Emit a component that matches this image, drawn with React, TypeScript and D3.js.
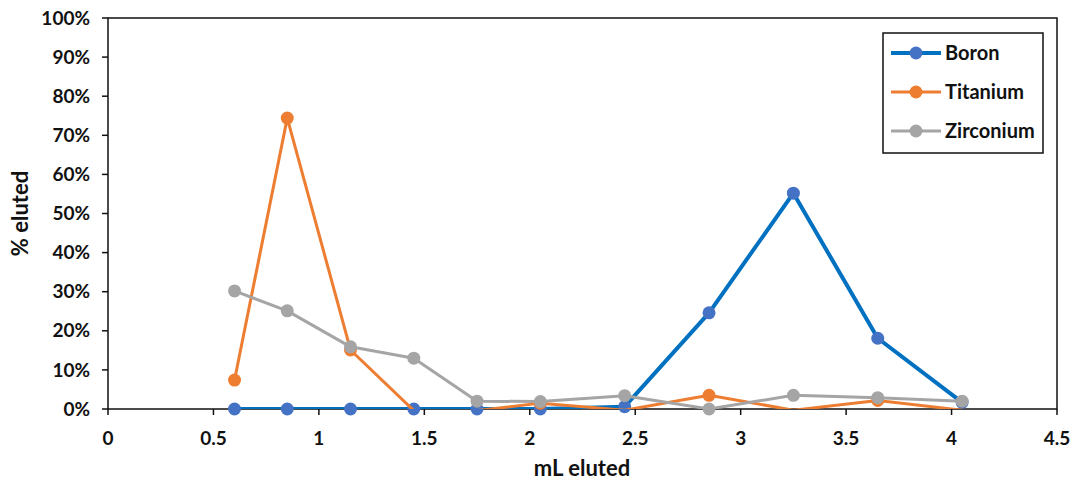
import React from "react";
import * as d3 from "d3";

// Elution volume (mL) at which each fraction was collected
const mlEluted = [0.6, 0.85, 1.15, 1.45, 1.75, 2.05, 2.45, 2.85, 3.25, 3.65, 4.05];

// Percent of each element eluted per fraction (fraction of total)
const boron = [0, 0, 0, 0, 0, 0, 0.006, 0.246, 0.552, 0.181, 0.017];
const titanium = [0.074, 0.744, 0.151, -0.004, -0.004, 0.015, -0.003, 0.035, -0.003, 0.022, -0.003];
const zirconium = [0.302, 0.251, 0.159, 0.13, 0.02, 0.019, 0.034, 0.0, 0.035, 0.029, 0.02];

const xTicks = [0, 0.5, 1, 1.5, 2, 2.5, 3, 3.5, 4, 4.5];
const yTicks = [0, 0.1, 0.2, 0.3, 0.4, 0.5, 0.6, 0.7, 0.8, 0.9, 1.0];

const seriesNames = ["Boron", "Titanium", "Zirconium"];

const W = 1072;
const H = 481;
const M = { left: 108, right: 1057, top: 18, bottom: 409 };
const FONT = "Lato, 'Open Sans', sans-serif";
const INK = "#111";

const styles = [
  { line: "#0070C0", marker: "#4472C4", width: 4 },
  { line: "#ED7D31", marker: "#ED7D31", width: 3 },
  { line: "#A5A5A5", marker: "#A5A5A5", width: 3 },
];

export default function App() {
  const x = d3.scaleLinear().domain([0, 4.5]).range([M.left, M.right]);
  const y = d3.scaleLinear().domain([0, 1]).range([M.bottom, M.top]);
  const pct = d3.format(".0%");

  const data = [boron, titanium, zirconium].map((vals) =>
    mlEluted.map((ml, i) => ({ ml, v: vals[i] }))
  );

  const line = d3
    .line<{ ml: number; v: number }>()
    .x((d) => x(d.ml))
    .y((d) => y(d.v));

  const legendX = 883;
  const legendY = 33;
  const legendRows = [53, 92, 131];

  return (
    <svg
      width={W}
      height={H}
      viewBox={`0 0 ${W} ${H}`}
      style={{ position: "absolute", left: 0, top: 0, background: "#fff" }}
    >
      <defs>
        <clipPath id="plot-clip">
          <rect x={M.left} y={M.top} width={M.right - M.left} height={M.bottom - M.top} />
        </clipPath>
      </defs>

      {/* plot frame */}
      <rect
        x={M.left}
        y={M.top}
        width={M.right - M.left}
        height={M.bottom - M.top}
        fill="none"
        stroke={INK}
        strokeWidth={1.5}
      />

      {/* y axis ticks and labels */}
      {yTicks.map((t) => (
        <g key={`y${t}`}>
          <line x1={M.left - 6} x2={M.left} y1={y(t)} y2={y(t)} stroke={INK} strokeWidth={1.5} />
          <text
            x={M.left - 18}
            y={y(t)}
            dy="0.35em"
            textAnchor="end"
            fontFamily={FONT}
            fontWeight={700}
            fontSize={19}
            fill={INK}
          >
            {pct(t)}
          </text>
        </g>
      ))}

      {/* x axis ticks and labels */}
      {xTicks.map((t) => (
        <g key={`x${t}`}>
          <line x1={x(t)} x2={x(t)} y1={M.bottom} y2={M.bottom + 6} stroke={INK} strokeWidth={1.5} />
          <text
            x={x(t)}
            y={438}
            dy="0.35em"
            textAnchor="middle"
            fontFamily={FONT}
            fontWeight={700}
            fontSize={19}
            fill={INK}
          >
            {String(t)}
          </text>
        </g>
      ))}

      {/* axis titles */}
      <text
        x={582}
        y={468}
        dy="0.35em"
        textAnchor="middle"
        fontFamily={FONT}
        fontWeight={700}
        fontSize={22}
        fill={INK}
      >
        mL eluted
      </text>
      <text
        transform={`translate(20, ${(M.top + M.bottom) / 2}) rotate(-90)`}
        dy="0.35em"
        textAnchor="middle"
        fontFamily={FONT}
        fontWeight={700}
        fontSize={22}
        fill={INK}
      >
        % eluted
      </text>

      {/* series lines (clipped to the plot) and markers */}
      {data.map((d, si) => (
        <g key={seriesNames[si]}>
          <path
            d={line(d) || ""}
            fill="none"
            stroke={styles[si].line}
            strokeWidth={styles[si].width}
            strokeLinejoin="round"
            clipPath="url(#plot-clip)"
          />
          {d
            .filter((p) => p.v >= 0 && p.v <= 1)
            .map((p) => (
              <circle
                key={p.ml}
                cx={x(p.ml)}
                cy={y(p.v)}
                r={6.5}
                fill={styles[si].marker}
              />
            ))}
        </g>
      ))}

      {/* legend */}
      <rect
        x={legendX}
        y={legendY}
        width={160}
        height={120}
        fill="#fff"
        stroke={INK}
        strokeWidth={1.5}
      />
      {seriesNames.map((name, i) => (
        <g key={`lg${name}`}>
          <line
            x1={891}
            x2={941}
            y1={legendRows[i]}
            y2={legendRows[i]}
            stroke={styles[i].line}
            strokeWidth={styles[i].width}
          />
          <circle cx={916} cy={legendRows[i]} r={6.5} fill={styles[i].marker} />
          <text
            x={945}
            y={legendRows[i]}
            dy="0.35em"
            fontFamily={FONT}
            fontWeight={700}
            fontSize={20}
            fill={INK}
          >
            {name}
          </text>
        </g>
      ))}
    </svg>
  );
}
